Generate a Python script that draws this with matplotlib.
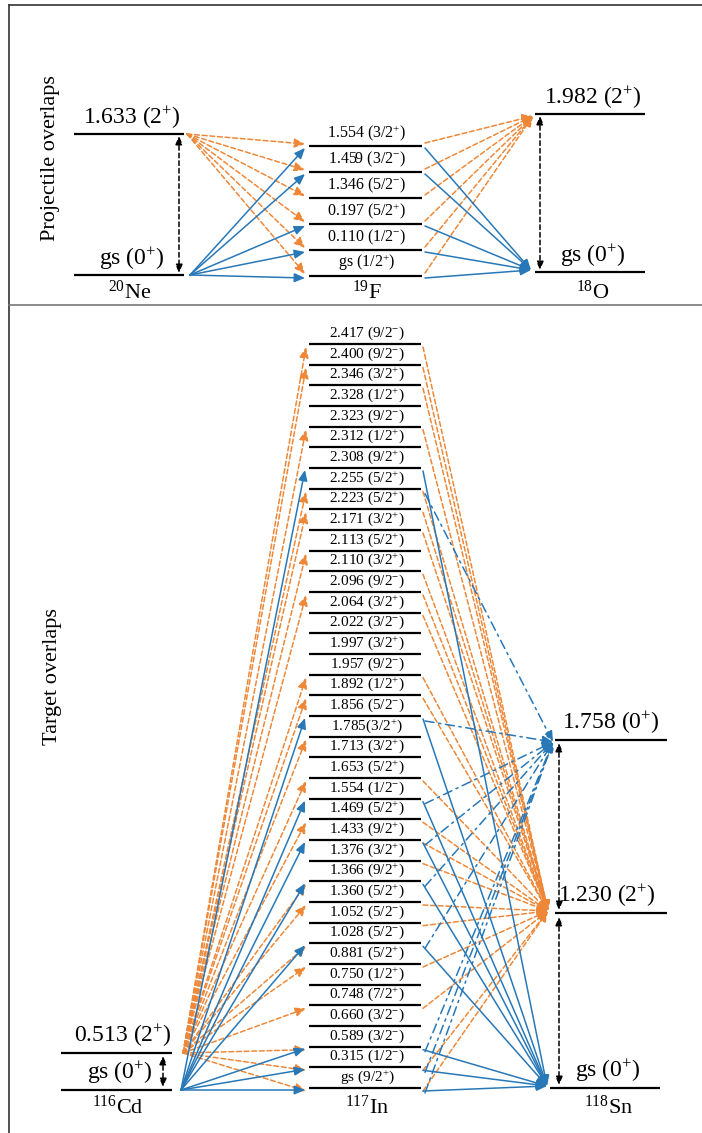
import matplotlib
matplotlib.use('Agg')
import matplotlib.pyplot as plt

plt.rcParams['font.family'] = ['Liberation Serif', 'DejaVu Serif']
plt.rcParams['mathtext.fontset'] = 'custom'
plt.rcParams['mathtext.rm'] = 'Liberation Serif'
plt.rcParams['mathtext.it'] = 'Liberation Serif:italic'
plt.rcParams['mathtext.bf'] = 'Liberation Serif:bold'

# ---- data ----
# projectile: 20Ne -> 19F -> 18O
ne20_energy = ['gs', '1.633']
ne20_jp = ['0+', '2+']
o18_energy = ['gs', '1.982']
o18_jp = ['0+', '2+']
f19_energy = ['gs', '0.110', '0.197', '1.346', '1.459', '1.554']
f19_jp = ['1/2+', '1/2-', '5/2+', '5/2-', '3/2-', '3/2+']

# target: 116Cd -> 117In -> 118Sn
cd116_energy = ['gs', '0.513']
cd116_jp = ['0+', '2+']
sn118_energy = ['gs', '1.230', '1.758']
sn118_jp = ['0+', '2+', '0+']
in117_energy = ['gs', '0.315', '0.589', '0.660', '0.748', '0.750', '0.881', '1.028',
                '1.052', '1.360', '1.366', '1.376', '1.433', '1.469', '1.554', '1.653',
                '1.713', '1.785', '1.856', '1.892', '1.957', '1.997', '2.022', '2.064',
                '2.096', '2.110', '2.113', '2.171', '2.223', '2.255', '2.308', '2.312',
                '2.323', '2.328', '2.346', '2.400', '2.417']
in117_jp = ['9/2+', '1/2-', '3/2-', '3/2-', '7/2+', '1/2+', '5/2+', '5/2-', '5/2-',
            '5/2+', '9/2+', '3/2+', '9/2+', '5/2+', '1/2-', '5/2+', '3/2+', '3/2+',
            '5/2-', '1/2+', '9/2-', '3/2+', '3/2-', '3/2+', '9/2-', '3/2+', '5/2+',
            '3/2+', '5/2+', '5/2+', '9/2+', '1/2+', '9/2-', '1/2+', '3/2+', '9/2-', '9/2-']

# overlaps (indices into the intermediate nucleus levels)
ne_gs_to_f = [0, 1, 2, 4, 5]
ne_2p_to_f = [0, 1, 2, 3, 4, 5]
f_to_o_gs = [0, 1, 2, 4, 5]
f_to_o_2p = [0, 1, 2, 3, 4, 5]

cd_gs_to_in = [0, 1, 2, 7, 10, 12, 14, 18, 30]
cd_2p_to_in = [0, 1, 2, 4, 6, 7, 9, 10, 13, 15, 17, 19, 20, 24, 26, 28, 29, 32, 35, 36]
in_to_sn_gs = [0, 1, 2, 7, 10, 12, 14, 18, 30]
in_to_sn_2p = [0, 1, 4, 6, 8, 9, 11, 12, 13, 15, 19, 20, 23, 24, 25, 27, 28, 29, 32,
               34, 35, 36]
in_to_sn_0p2 = [0, 1, 2, 7, 10, 12, 14, 18, 29]

BLUE = '#2878b8'
ORANGE = '#ee8838'


def lab(e, jp, space=' '):
    return e + space + '(' + jp[:-1] + '$^{' + jp[-1] + '}$)'


fig = plt.figure(figsize=(7.02, 11.33), dpi=100)
ax = fig.add_axes([0, 0, 1, 1])
ax.set_xlim(0, 702)
ax.set_ylim(1133, 0)
ax.axis('off')

# frame
ax.plot([9, 9], [5, 1133], color='#333333', lw=1.2)
ax.plot([9, 702], [5, 5], color='#333333', lw=1.2)
ax.plot([9, 702], [305, 305], color='#777777', lw=1.2)


def level(x0, x1, y):
    ax.plot([x0, x1], [y, y], color='black', lw=1.6, solid_capstyle='butt')


def arrow(p0, p1, color, ls, lw=1.1, style='-|>', ms=9):
    ax.annotate('', xy=p1, xytext=p0,
                arrowprops=dict(arrowstyle=style + ',head_length=0.7,head_width=0.3',
                                color=color, lw=lw, ls=ls, shrinkA=0, shrinkB=0,
                                mutation_scale=ms))


DASH = (0, (3.2, 1.8))
DASHDOT = (0, (6, 3, 1.5, 3))

# ---- projectile panel ----
f_x0, f_x1, f_cx = 309, 422, 367
f_y = [276 - 26 * i for i in range(len(f19_energy))]
ne_x0, ne_x1 = 74, 184
ne_y = [275, 134]
o_x0, o_x1 = 535, 645
o_y = [272, 114]

for i, y in enumerate(f_y):
    level(f_x0, f_x1, y)
    ax.text(f_cx, y - 3, lab(f19_energy[i], f19_jp[i]), ha='center', va='bottom', fontsize=11.5)
for i, y in enumerate(ne_y):
    level(ne_x0, ne_x1, y)
    ax.text(132, y - 3, lab(ne20_energy[i], ne20_jp[i]), ha='center', va='bottom', fontsize=17)
for i, y in enumerate(o_y):
    level(o_x0, o_x1, y)
    ax.text(593, y - 3, lab(o18_energy[i], o18_jp[i]), ha='center', va='bottom', fontsize=17)

ax.text(130, 281, '$^{20}$Ne', ha='center', va='top', fontsize=16)
ax.text(f_cx, 281, '$^{19}$F', ha='center', va='top', fontsize=16)
ax.text(593, 281, '$^{18}$O', ha='center', va='top', fontsize=16)
ax.text(51, 158, 'Projectile overlaps', rotation=90, ha='center', va='center', fontsize=16)

for i in ne_2p_to_f:
    arrow((187, ne_y[1]), (305, f_y[i] - 2), ORANGE, DASH)
for i in ne_gs_to_f:
    arrow((190, ne_y[0]), (305, f_y[i] + 2), BLUE, '-')
for i in f_to_o_2p:
    arrow((425, f_y[i] - 3), (533, o_y[1] + 2), ORANGE, DASH)
for i in f_to_o_gs:
    arrow((425, f_y[i] + 2), (531, o_y[0] - 2), BLUE, '-')

arrow((179, ne_y[1] + 2), (179, ne_y[0] - 2), 'black', (0, (3, 2)), lw=1.1, style='<|-|>', ms=7)
arrow((540, o_y[1] + 2), (540, o_y[0] - 2), 'black', (0, (3, 2)), lw=1.1, style='<|-|>', ms=7)

# ---- target panel ----
in_x0, in_x1, in_cx = 309, 421, 367
in_top, in_bot = 344, 1088
step = (in_bot - in_top) / (len(in117_energy) - 1)
in_y = [in_bot - step * i for i in range(len(in117_energy))]
cd_x0, cd_x1 = 61, 172
cd_y = [1090, 1053]
sn_y = [1088, 913, 740]
sn_x = [(550, 660), (555, 667), (555, 667)]

for i, y in enumerate(in_y):
    level(in_x0, in_x1, y)
    sp = '' if in117_energy[i] == '1.785' else ' '
    ax.text(in_cx, y - 2, lab(in117_energy[i], in117_jp[i], sp), ha='center', va='bottom',
            fontsize=11)
for i, y in enumerate(cd_y):
    level(cd_x0, cd_x1, y)
cd_tx = [120, 123]
for i, y in enumerate(cd_y):
    ax.text(cd_tx[i], y - 4, lab(cd116_energy[i], cd116_jp[i]), ha='center', va='bottom',
            fontsize=17)
sn_tx = [608, 607, 611]
for i, y in enumerate(sn_y):
    level(sn_x[i][0], sn_x[i][1], y)
    ax.text(sn_tx[i], y - 4, lab(sn118_energy[i], sn118_jp[i]), ha='center', va='bottom',
            fontsize=17)

ax.text(118, 1096, '$^{116}$Cd', ha='center', va='top', fontsize=16)
ax.text(in_cx, 1096, '$^{117}$In', ha='center', va='top', fontsize=16)
ax.text(609, 1096, '$^{118}$Sn', ha='center', va='top', fontsize=16)
ax.text(53, 677, 'Target overlaps', rotation=90, ha='center', va='center', fontsize=16)

for i in cd_2p_to_in:
    arrow((183, cd_y[1]), (306, in_y[i] + 3), ORANGE, DASH)
for i in cd_gs_to_in:
    arrow((181, cd_y[0]), (305, in_y[i] + 2), BLUE, '-')
for i in in_to_sn_2p:
    arrow((423, in_y[i] + 3), (548, sn_y[1] - 2), ORANGE, DASH)
for i in in_to_sn_gs:
    arrow((423, in_y[i] + 3), (547, sn_y[0] - 2), BLUE, '-')
for i in in_to_sn_0p2:
    arrow((425, in_y[i] + 5), (553, sn_y[2] + 2), BLUE, DASHDOT)

arrow((163, cd_y[1] + 3), (163, cd_y[0] - 3), 'black', (0, (3, 2)), lw=1.1, style='<|-|>', ms=7)
arrow((559, sn_y[2] + 3), (559, sn_y[1] - 3), 'black', (0, (3, 2)), lw=1.1, style='<|-|>', ms=7)
arrow((559, sn_y[1] + 4), (559, sn_y[0] - 3), 'black', (0, (3, 2)), lw=1.1, style='<|-|>', ms=7)

fig.savefig('out.png', dpi=100)
